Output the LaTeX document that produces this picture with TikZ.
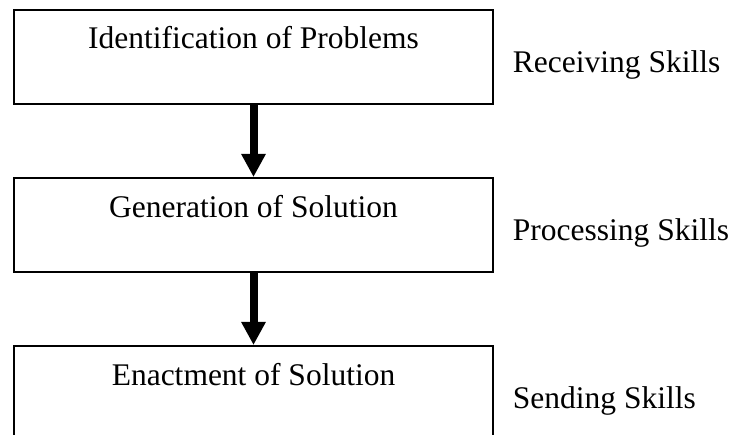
\documentclass[tikz,border=0pt]{standalone}
\usepackage{fontspec}
\setmainfont{Liberation Serif}
\usetikzlibrary{arrows.meta}

\begin{document}
\begin{tikzpicture}[x=1pt,y=1pt,yscale=-1,xscale=1,
  stagebox/.style={draw, line width=2pt, minimum width=479pt, minimum height=94pt, inner sep=0pt},
  stagetext/.style={anchor=base, inner sep=0.75pt, font=\fontsize{31.5}{38}\selectfont},
  skilltext/.style={anchor=base west, inner sep=0.75pt, font=\fontsize{31.5}{38}\selectfont},
  flowarrow/.style={line width=8pt, -{Triangle[length=23pt,width=23pt]}}]
\useasboundingbox (0,0) rectangle (733,435);
\clip (0,0) rectangle (733,435);

%Shape: Rectangle [id:ident]
\node [stagebox] (ident) at (253.5,57) {};
%Shape: Rectangle [id:gener]
\node [stagebox] (gener) at (253.5,225) {};
%Shape: Rectangle [id:enact]
\node [stagebox] (enact) at (253.5,393) {};

%Straight Lines [id:ident-gener]
\draw [flowarrow] (ident.south) -- (gener.north);
%Straight Lines [id:gener-enact]
\draw [flowarrow] (gener.south) -- (enact.north);

% Text Node
\node [stagetext] (identlabel) at (253.5,48.5) {Identification of Problems};
% Text Node
\node [stagetext] (generlabel) at (253.5,217.5) {Generation of Solution};
% Text Node
\node [stagetext] (enactlabel) at (253.5,385.5) {Enactment of Solution};
% Text Node
\node [skilltext] (receiving) at (512,72.5) {Receiving Skills};
% Text Node
\node [skilltext] (processing) at (512,240.5) {Processing Skills};
% Text Node
\node [skilltext] (sending) at (512,408.5) {Sending Skills};

\end{tikzpicture}
\end{document}
